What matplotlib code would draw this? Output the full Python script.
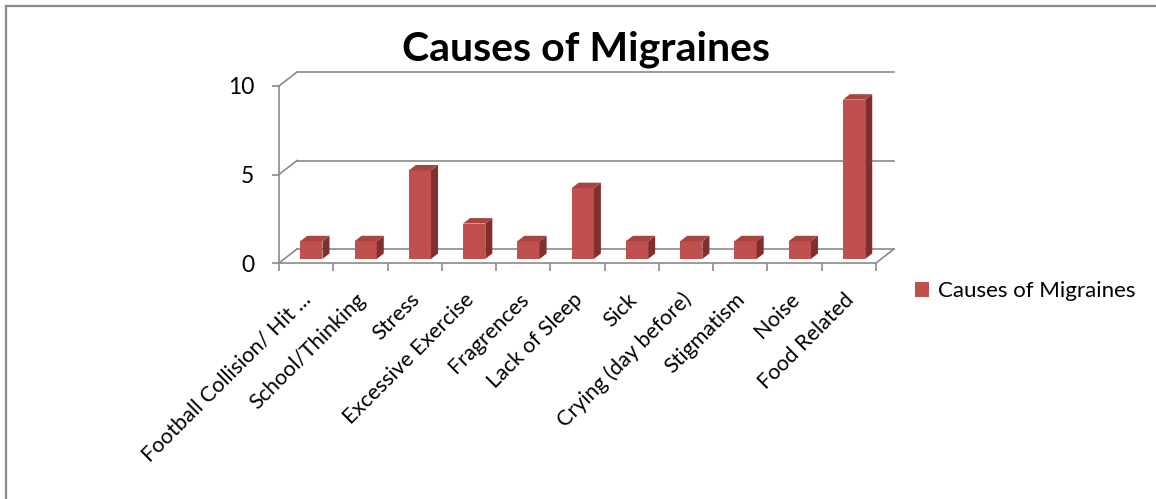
import matplotlib
matplotlib.use("Agg")
import matplotlib.pyplot as plt
from matplotlib.patches import Polygon, Patch
from matplotlib.lines import Line2D
from matplotlib.transforms import ScaledTranslation

plt.rcParams["font.family"] = ["Lato", "DejaVu Sans"]

categories = ["Football Collision/ Hit ...", "School/Thinking", "Stress",
              "Excessive Exercise", "Fragrences", "Lack of Sleep", "Sick",
              "Crying (day before)", "Stigmatism", "Noise", "Food Related"]
counts = [1, 1, 5, 2, 1, 4, 1, 1, 1, 1, 9]
yticks = [0, 5, 10]
title = "Causes of Migraines"
series_name = "Causes of Migraines"

FRONT = "#C0504D"
TOP = "#A94541"
SIDE = "#7F2F2D"
GRID = "#8A8A8A"

W, H = 1156, 499
fig = plt.figure(figsize=(W / 100, H / 100), dpi=100)
# front plane of the pseudo-3D plot box (pixels measured from the top left)
x0, x1, y0, y1 = 279, 876, 263, 86
ax = fig.add_axes([x0 / W, 1 - y0 / H, (x1 - x0) / W, (y0 - y1) / H])
n = len(categories)
ax.set_xlim(0, n)
ax.set_ylim(0, 10)

# depth offset of the back wall in data units
DX = 18 / ((x1 - x0) / n)
DY = 14 / ((y0 - y1) / 10)
f0, f1 = 0.29, 0.68     # depth slab occupied by the bars
bw = 0.41

# back wall gridlines + left wall diagonals
for t in yticks:
    ax.plot([DX, n + DX], [t + DY, t + DY], color=GRID, lw=1.2, clip_on=False, zorder=1)
    ax.plot([0, DX], [t, t + DY], color=GRID, lw=1.2, clip_on=False, zorder=1)
ax.plot([n, n + DX], [0, DY], color=GRID, lw=1.2, clip_on=False, zorder=1)

for i, v in enumerate(counts):
    xl = i + 0.5 - bw / 2 + f0 * DX
    xr = xl + bw
    b = f0 * DY
    ddx, ddy = (f1 - f0) * DX, (f1 - f0) * DY
    front = Polygon([(xl, b), (xr, b), (xr, v + b), (xl, v + b)], closed=True,
                    facecolor=FRONT, edgecolor="none", clip_on=False, zorder=3)
    side = Polygon([(xr, b), (xr + ddx, b + ddy), (xr + ddx, v + b + ddy), (xr, v + b)],
                   closed=True, facecolor=SIDE, edgecolor="none", clip_on=False, zorder=3)
    top = Polygon([(xl, v + b), (xr, v + b), (xr + ddx, v + b + ddy), (xl + ddx, v + b + ddy)],
                  closed=True, facecolor=TOP, edgecolor="none", clip_on=False, zorder=3)
    for p in (front, side, top):
        ax.add_patch(p)

for s in ("top", "right"):
    ax.spines[s].set_visible(False)
for s in ("left", "bottom"):
    ax.spines[s].set_color(GRID)
    ax.spines[s].set_linewidth(1.2)

ax.set_yticks(yticks)
ax.set_yticklabels([str(t) for t in yticks], fontsize=16.5)
ax.tick_params(axis="y", length=5, width=1.2, color=GRID, pad=13)

centers = [i + 0.5 for i in range(n)]
ax.set_xticks(centers)
ax.set_xticklabels(categories, rotation=45, ha="right", va="center",
                   rotation_mode="anchor", fontsize=15.5)
ax.set_xticks(range(n + 1), minor=True)
ax.tick_params(axis="x", which="major", length=0, pad=24)
ax.tick_params(axis="x", which="minor", length=6, width=1.2, color=GRID)
shift = ScaledTranslation(2 / 100, 0, fig.dpi_scale_trans)
for lab in ax.get_xticklabels():
    lab.set_transform(lab.get_transform() + shift)

ax.patch.set_visible(False)

fig.text(586 / W, 1 - 60 / H, title, ha="center", va="baseline",
         fontsize=29.5, fontweight="bold")

fig.legend(handles=[Patch(facecolor=FRONT, edgecolor="none", label=series_name)],
           loc="center left", bbox_to_anchor=(915 / W, 1 - 291 / H),
           frameon=False, fontsize=16, handlelength=0.65, handleheight=0.65,
           handletextpad=0.4, borderpad=0, borderaxespad=0)

# outer chart border (left and top edges only are visible)
fig.add_artist(Line2D([5.5 / W, 5.5 / W], [0, 1 - 5.5 / H], color="#8C8C8C", lw=1.6))
fig.add_artist(Line2D([5.5 / W, 1], [1 - 5.5 / H, 1 - 5.5 / H], color="#8C8C8C", lw=1.6))

fig.savefig("out.png", dpi=100)
